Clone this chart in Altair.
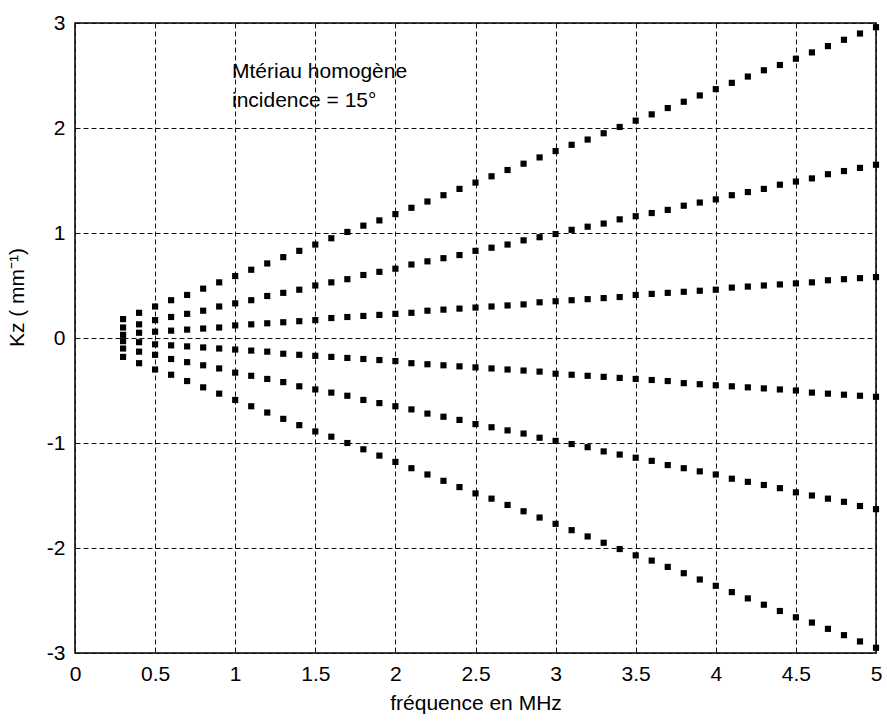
import altair as alt
import pandas as pd

freq = [0.3, 0.4, 0.5, 0.6, 0.7, 0.8, 0.9, 1.0, 1.1, 1.2, 1.3, 1.4, 1.5, 1.6, 1.7, 1.8,
        1.9, 2.0, 2.1, 2.2, 2.3, 2.4, 2.5, 2.6, 2.7, 2.8, 2.9, 3.0, 3.1, 3.2, 3.3, 3.4,
        3.5, 3.6, 3.7, 3.8, 3.9, 4.0, 4.1, 4.2, 4.3, 4.4, 4.5, 4.6, 4.7, 4.8, 4.9, 5.0]

kz1 = [0.18, 0.24, 0.30, 0.36, 0.41, 0.47, 0.53, 0.59, 0.65, 0.71, 0.77, 0.83, 0.89, 0.95, 1.01, 1.07,
       1.12, 1.18, 1.24, 1.30, 1.36, 1.42, 1.48, 1.54, 1.60, 1.66, 1.72, 1.78, 1.84, 1.89, 1.95, 2.01,
       2.07, 2.13, 2.19, 2.25, 2.31, 2.37, 2.43, 2.49, 2.55, 2.60, 2.66, 2.72, 2.78, 2.84, 2.90, 2.96]
kz2 = [0.10, 0.13, 0.17, 0.20, 0.23, 0.26, 0.30, 0.33, 0.36, 0.40, 0.43, 0.46, 0.50, 0.53, 0.56, 0.60,
       0.63, 0.66, 0.70, 0.73, 0.76, 0.79, 0.83, 0.86, 0.89, 0.93, 0.96, 0.99, 1.03, 1.06, 1.09, 1.13,
       1.16, 1.19, 1.22, 1.26, 1.29, 1.32, 1.36, 1.39, 1.42, 1.46, 1.49, 1.52, 1.56, 1.59, 1.62, 1.65]
kz3 = [0.03, 0.05, 0.06, 0.07, 0.08, 0.09, 0.10, 0.12, 0.13, 0.14, 0.15, 0.16, 0.17, 0.19, 0.20, 0.21,
       0.22, 0.23, 0.24, 0.26, 0.27, 0.28, 0.29, 0.30, 0.31, 0.32, 0.34, 0.35, 0.36, 0.37, 0.38, 0.39,
       0.41, 0.42, 0.43, 0.44, 0.45, 0.46, 0.48, 0.49, 0.50, 0.51, 0.52, 0.53, 0.55, 0.56, 0.57, 0.58]
kz4 = [-0.03, -0.04, -0.06, -0.07, -0.08, -0.09, -0.10, -0.11, -0.12, -0.13, -0.15, -0.16, -0.17, -0.18, -0.19, -0.20,
       -0.21, -0.22, -0.24, -0.25, -0.26, -0.27, -0.28, -0.29, -0.30, -0.31, -0.32, -0.34, -0.35, -0.36, -0.37, -0.38,
       -0.39, -0.40, -0.41, -0.43, -0.44, -0.45, -0.46, -0.47, -0.48, -0.49, -0.50, -0.52, -0.53, -0.54, -0.55, -0.56]
kz5 = [-0.10, -0.13, -0.16, -0.20, -0.23, -0.26, -0.29, -0.33, -0.36, -0.39, -0.42, -0.46, -0.49, -0.52, -0.55, -0.59,
       -0.62, -0.65, -0.68, -0.72, -0.75, -0.78, -0.82, -0.85, -0.88, -0.91, -0.95, -0.98, -1.01, -1.04, -1.08, -1.11,
       -1.14, -1.17, -1.21, -1.24, -1.27, -1.30, -1.34, -1.37, -1.40, -1.43, -1.47, -1.50, -1.53, -1.56, -1.60, -1.63]
kz6 = [-0.18, -0.24, -0.30, -0.35, -0.41, -0.47, -0.53, -0.59, -0.65, -0.71, -0.77, -0.83, -0.89, -0.94, -1.00, -1.06,
       -1.12, -1.18, -1.24, -1.30, -1.36, -1.42, -1.48, -1.53, -1.59, -1.65, -1.71, -1.77, -1.83, -1.89, -1.95, -2.01,
       -2.07, -2.12, -2.18, -2.24, -2.30, -2.36, -2.42, -2.48, -2.54, -2.60, -2.66, -2.71, -2.77, -2.83, -2.89, -2.95]

x_ticks = [0, 0.5, 1, 1.5, 2, 2.5, 3, 3.5, 4, 4.5, 5]
y_ticks = [-3, -2, -1, 0, 1, 2, 3]

note_lines = ["Mtériau homogène", "incidence = 15°"]
note_x = [0.98]
note_y = [2.48]

rows = []
for name, series in [("1", kz1), ("2", kz2), ("3", kz3), ("4", kz4), ("5", kz5), ("6", kz6)]:
    for f, k in zip(freq, series):
        rows.append({"freq": f, "kz": k, "mode": name})
df = pd.DataFrame(rows)

FONT = "Liberation Sans"

xscale = alt.Scale(domain=[0, 5], nice=False, zero=False)
yscale = alt.Scale(domain=[-3, 3], nice=False, zero=False)

points = alt.Chart(df).mark_square(size=38, color="black", opacity=1).encode(
    x=alt.X("freq:Q", scale=xscale,
            axis=alt.Axis(values=x_ticks, labelExpr="datum.value + ''",
                          title="fréquence en MHz", titleFontWeight="normal",
                          titleFontSize=21, titleFont=FONT, titlePadding=8,
                          labelFont=FONT, labelFontSize=21, labelPadding=10,
                          labelFlush=False,
                          labelColor="black", titleColor="black",
                          tickSize=0, domain=False,
                          grid=True, gridDash=[5, 3], gridColor="#111", gridWidth=1)),
    y=alt.Y("kz:Q", scale=yscale,
            axis=alt.Axis(values=y_ticks, labelExpr="datum.value + ''",
                          title="Kz  ( mm⁻¹)", titleFontWeight="normal",
                          titleFontSize=21, titleFont=FONT, titleAngle=270,
                          titleX=-58, titleY=274, titleAlign="center",
                          titleBaseline="middle",
                          labelFont=FONT, labelFontSize=21, labelPadding=10,
                          labelFlush=False,
                          labelColor="black", titleColor="black",
                          tickSize=0, domain=False,
                          grid=True, gridDash=[5, 3], gridColor="#111", gridWidth=1)),
)

note_df = pd.DataFrame({"x": note_x, "y": note_y, "t": [note_lines]})
note = alt.Chart(note_df).mark_text(
    align="left", baseline="alphabetic", font=FONT, fontSize=21,
    lineHeight=29, color="black"
).encode(x=alt.X("x:Q", scale=xscale), y=alt.Y("y:Q", scale=yscale), text="t")

chart = alt.layer(points, note).properties(
    width=801, height=630,
    padding={"left": 75, "top": 23, "right": 11, "bottom": 71},
    autosize=alt.AutoSizeParams(type="none"),
    background="white",
).configure_view(stroke="black", strokeWidth=1.5)

chart.save("out.html", embed_options={"renderer": "svg", "actions": False})
